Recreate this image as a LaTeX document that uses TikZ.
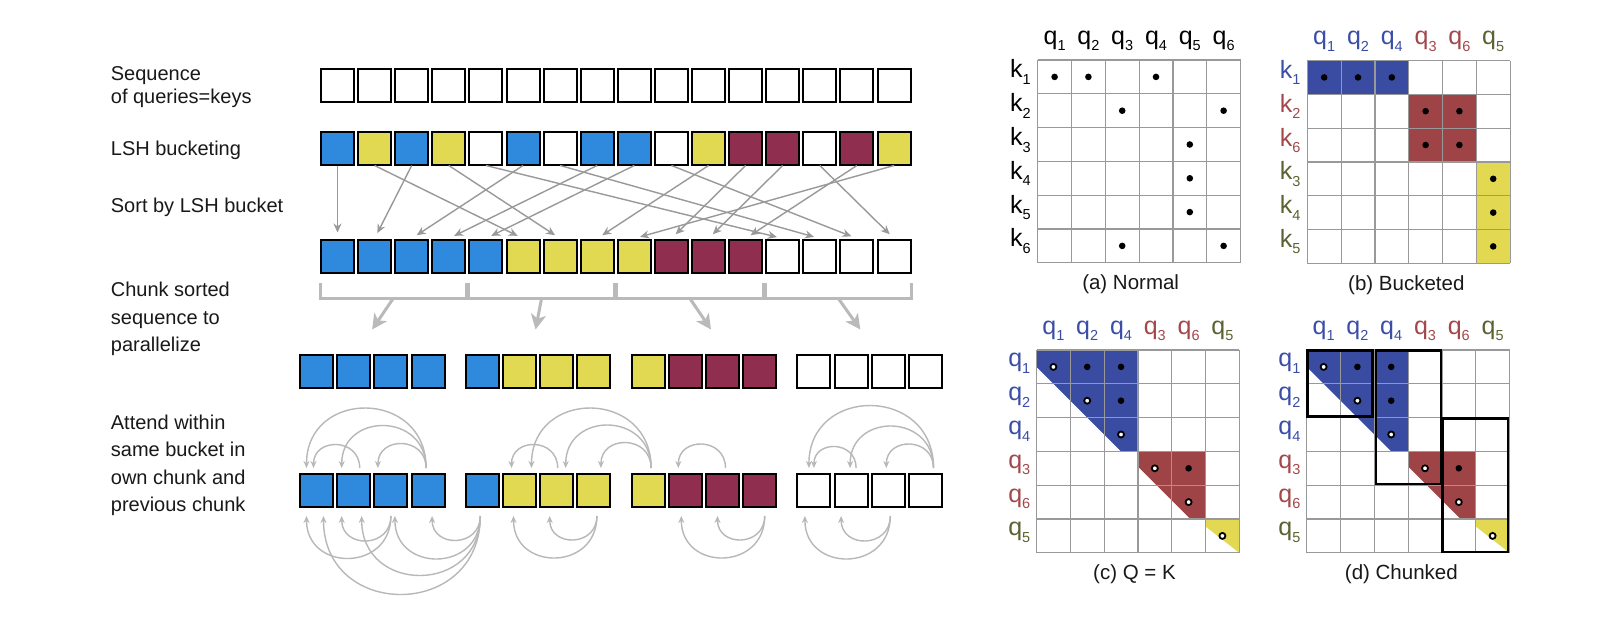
\documentclass[tikz,border=0pt]{standalone}
\usepackage{fontspec}
\setmainfont{Liberation Sans}
\usetikzlibrary{arrows.meta, positioning, calc}

\definecolor{tokblue}{HTML}{2F89DC}
\definecolor{tokyellow}{HTML}{E2D953}
\definecolor{tokred}{HTML}{8F2E4E}
\definecolor{cellblue}{HTML}{394CA2}
\definecolor{cellred}{HTML}{9E4447}
\definecolor{cellyellow}{HTML}{E3D852}
\definecolor{labblue}{HTML}{3A4EA8}
\definecolor{labred}{HTML}{A4474B}
\definecolor{labolive}{HTML}{5B6231}

\newcommand{\qk}[2]{#1\raisebox{-6.5pt}{\fontsize{14.5}{15}\selectfont #2}}

\tikzset{
  tok/.style={draw=black, line width=2pt, minimum width=33pt, minimum height=33pt, inner sep=0pt},
  sortarrow/.style={draw=black!40, line width=1.4pt, -{Stealth[length=9pt,width=8pt]}, shorten >=6pt},
  bracket/.style={draw=black!27, line width=3pt},
  chunkarrow/.style={draw=black!27, line width=3pt, -{Stealth[length=15pt,width=15pt,inset=4pt]}},
  attarc/.style={draw=black!28, line width=1.4pt, -{Stealth[length=7pt,width=6pt]}},
  arcup/.style={out=90, in=90, looseness=1.7},
  arcdown/.style={out=-90, in=-90, looseness=1.7},
  steplabel/.style={anchor=north west, inner sep=0pt, align=left, text=black!90},
  mlabel/.style={inner sep=0pt, font=\fontsize{25}{26}\selectfont},
  caption/.style={inner sep=0pt, anchor=base, text=black!90, font=\fontsize{20.5}{22}\selectfont},
  gridline/.style={draw=black!40, line width=1.2pt},
  hit/.style={fill=black},
  self/.style={draw=black, line width=1.8pt, fill=white},
  chunkbox/.style={draw=black, line width=2.5pt},
}

\begin{document}
\begin{tikzpicture}[x=1pt, y=-1pt]
  \path[use as bounding box, fill=white] (0,0) rectangle (1622,629);

  % step labels
  \node[steplabel, font=\fontsize{20}{23.3}\selectfont] (lab-seq) at (110.7,66.2) {Sequence\\of queries=keys};
  \node[steplabel, font=\fontsize{20}{27.5}\selectfont] (lab-lsh) at (110.7,140.6) {LSH bucketing};
  \node[steplabel, font=\fontsize{20}{27.5}\selectfont] (lab-sort) at (110.7,197.8) {Sort by LSH bucket};
  \node[steplabel, font=\fontsize{20}{27.5}\selectfont] (lab-chunk) at (110.7,282.2) {Chunk sorted\\sequence to\\parallelize};
  \node[steplabel, font=\fontsize{20}{27.5}\selectfont] (lab-att) at (110.7,414.8) {Attend within\\same bucket in\\own chunk and\\previous chunk};

  % token rows
  \foreach \i in {0,...,15}
    \node[tok, fill=white] (seq-\i) at (337.5+37.1*\i, 85) {};
  \foreach \c [count=\i from 0] in {tokblue,tokyellow,tokblue,tokyellow,white,tokblue,white,tokblue,tokblue,white,tokyellow,tokred,tokred,white,tokred,tokyellow}
    \node[tok, fill=\c] (lsh-\i) at (337.5+37.1*\i, 148) {};
  \foreach \c [count=\i from 0] in {tokblue,tokblue,tokblue,tokblue,tokblue,tokyellow,tokyellow,tokyellow,tokyellow,tokred,tokred,tokred,white,white,white,white} {
    \node[tok, fill=\c] (srt-\i) at (337.5+37.1*\i, 256) {};
    \node[tok, fill=\c] (chk-\i) at ({316.5+165.8*int(\i/4)+37.2*mod(\i,4)}, 371.5) {};
    \node[tok, fill=\c] (att-\i) at ({316.5+165.8*int(\i/4)+37.2*mod(\i,4)}, 490.5) {};
  }

  % sorting
  \foreach \i/\j in {0/0,2/1,5/2,7/3,8/4,1/5,3/6,10/7,15/8,11/9,12/10,14/11,4/12,6/13,9/14,13/15}
    \draw[sortarrow] (lsh-\i.south) -- (srt-\j.north);

  % chunking
  \foreach \k/\dx in {0/-21,1/-6,2/21,3/22} {
    \pgfmathtruncatemacro{\kfirst}{4*\k}
    \pgfmathtruncatemacro{\klast}{4*\k+3}
    \draw[bracket] ([yshift=-9pt]srt-\kfirst.south west) -- ++(0,16) -| ([yshift=-9pt]srt-\klast.south east);
    \coordinate (brk-\k) at ($(srt-\kfirst.south west)!0.5!(srt-\klast.south east)+(0,25)$);
    \coordinate (tip-\k) at ($(brk-\k)+(\dx,31)$);
    \draw[chunkarrow] (brk-\k) -- (tip-\k);
  }

  % attention arcs
  \foreach \s/\ds/\e/\de in {3/-2/0/-10, 3/-2/1/-12, 3/-2/2/-13, 1/6/0/-3, 6/1/5/-8, 8/3/5/12, 8/3/6/9, 8/3/7/7, 10/3/9/-7, 15/8/12/-5, 15/8/13/-1, 15/8/14/-2, 13/5/12/0}
    \draw[attarc] ([xshift=\ds, yshift=5pt]att-\s.north) to[arcup] ([xshift=\de, yshift=5pt]att-\e.north);
  \foreach \s/\ds/\e/\de in {2/0/1/-12, 2/0/0/-10, 4/-2/3/4, 4/-2/2/4, 4/-2/1/8, 4/-2/0/7, 7/3/6/-7, 7/3/5/-6, 11/5/10/-5, 11/5/9/-4, 14/2/13/-10, 14/2/12/-9}
    \draw[attarc] ([xshift=\ds, yshift=-8pt]att-\s.south) to[arcdown] ([xshift=\de, yshift=-8pt]att-\e.south);

  % (a) normal
  \begin{scope}[shift={(1037.7,60)}, x=33.8pt, y=-33.8pt]
    \foreach \i in {0,...,6} {
      \draw[gridline] (\i,0) -- (\i,6);
      \draw[gridline] (0,\i) -- (6,\i);
    }
    \foreach \c/\r in {0/0,1/0,3/0,2/1,5/1,4/2,4/3,4/4,2/5,5/5}
      \fill[hit] (\c+0.5,\r+0.5) circle (3.3pt);
    \foreach \l [count=\j from 0] in {1,...,6} {
      \node[mlabel, anchor=base] (na-q\l) at (\j+0.5,-0.47) {\qk{q}{\l}};
      \node[mlabel, anchor=base east] (na-k\l) at (-0.2,\j+0.53) {\qk{k}{\l}};
    }
    \node[caption] (cap-a) at (2.75,6.8) {(a) Normal};
  \end{scope}

  % (b) bucketed
  \begin{scope}[shift={(1307.3,60.5)}, x=33.8pt, y=-33.8pt]
    \fill[cellblue] (0,0) rectangle (3,1);
    \fill[cellred] (3,1) rectangle (5,3);
    \fill[cellyellow] (5,3) rectangle (6,6);
    \foreach \i in {0,...,6} {
      \draw[gridline] (\i,0) -- (\i,6);
      \draw[gridline] (0,\i) -- (6,\i);
    }
    \foreach \c/\r in {0/0,1/0,2/0,3/1,4/1,3/2,4/2,5/3,5/4,5/5}
      \fill[hit] (\c+0.5,\r+0.5) circle (3.3pt);
    \foreach \l/\col [count=\j from 0] in {1/labblue,2/labblue,4/labblue,3/labred,6/labred,5/labolive}
      \node[mlabel, anchor=base, text=\col] (nb-q\l) at (\j+0.5,-0.47) {\qk{q}{\l}};
    \foreach \l/\col [count=\j from 0] in {1/labblue,2/labred,6/labred,3/labolive,4/labolive,5/labolive}
      \node[mlabel, anchor=base east, text=\col] (nb-k\l) at (-0.2,\j+0.53) {\qk{k}{\l}};
    \node[caption] (cap-b) at (2.93,6.8) {(b) Bucketed};
  \end{scope}

  % (c) shared query-key
  \begin{scope}[shift={(1036.5,350)}, x=33.8pt, y=-33.8pt]
    \fill[cellblue] (0,0) -- (3,0) -- (3,3) -- (2.5,3) -- (0,0.5) -- cycle;
    \fill[cellred] (3,3) -- (5,3) -- (5,5) -- (4.55,5) -- (3,3.45) -- cycle;
    \fill[cellyellow] (5,5) -- (6,5) -- (6,6) -- (5,5.22) -- cycle;
    \foreach \i in {0,...,6} {
      \draw[gridline] (\i,0) -- (\i,6);
      \draw[gridline] (0,\i) -- (6,\i);
    }
    \foreach \c/\r in {1/0,2/0,2/1,4/3}
      \fill[hit] (\c+0.5,\r+0.5) circle (3.3pt);
    \foreach \i in {0,...,5}
      \draw[self] (\i+0.5,\i+0.5) circle (3pt);
    \foreach \l/\col [count=\j from 0] in {1/labblue,2/labblue,4/labblue,3/labred,6/labred,5/labolive} {
      \node[mlabel, anchor=base, text=\col] (nc-c\l) at (\j+0.5,-0.47) {\qk{q}{\l}};
      \node[mlabel, anchor=base east, text=\col] (nc-r\l) at (-0.18,\j+0.5) {\qk{q}{\l}};
    }
    \node[caption] (cap-c) at (2.9,6.8) {(c) Q = K};
  \end{scope}

  % (d) chunked
  \begin{scope}[shift={(1306.7,350)}, x=33.8pt, y=-33.8pt]
    \fill[cellblue] (0,0) -- (3,0) -- (3,3) -- (2.5,3) -- (0,0.5) -- cycle;
    \fill[cellred] (3,3) -- (5,3) -- (5,5) -- (4.55,5) -- (3,3.45) -- cycle;
    \fill[cellyellow] (5,5) -- (6,5) -- (6,6) -- (5,5.22) -- cycle;
    \foreach \i in {0,...,6} {
      \draw[gridline] (\i,0) -- (\i,6);
      \draw[gridline] (0,\i) -- (6,\i);
    }
    \foreach \c/\r in {1/0,2/0,2/1,4/3}
      \fill[hit] (\c+0.5,\r+0.5) circle (3.3pt);
    \foreach \i in {0,...,5}
      \draw[self] (\i+0.5,\i+0.5) circle (3pt);
    \draw[chunkbox] (0.02,0.02) rectangle (1.95,1.97);
    \draw[chunkbox] (2.05,0.02) rectangle (3.97,3.97);
    \draw[chunkbox] (4.02,2.03) rectangle (5.96,5.97);
    \foreach \l/\col [count=\j from 0] in {1/labblue,2/labblue,4/labblue,3/labred,6/labred,5/labolive} {
      \node[mlabel, anchor=base, text=\col] (nd-c\l) at (\j+0.5,-0.47) {\qk{q}{\l}};
      \node[mlabel, anchor=base east, text=\col] (nd-r\l) at (-0.18,\j+0.5) {\qk{q}{\l}};
    }
    \node[caption] (cap-d) at (2.8,6.8) {(d) Chunked};
  \end{scope}
\end{tikzpicture}
\end{document}
